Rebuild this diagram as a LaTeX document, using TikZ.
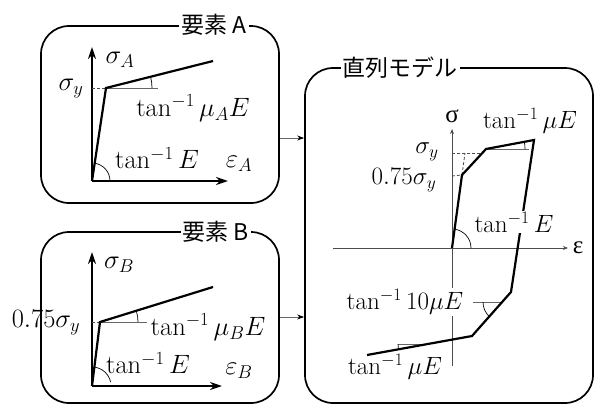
\RequirePackage{fix-cm}
\documentclass[tikz,border=0pt]{standalone}
\usepackage{fontspec}
\newfontfamily\jpfont{Noto Sans CJK JP}
\newfontfamily\grkfont{Liberation Serif}
\usetikzlibrary{arrows.meta}
\begin{document}
\begin{tikzpicture}[x=1pt,y=-1pt,
  box/.style={draw, line width=1.7pt, rounded corners=28pt, inner sep=0pt},
  ttl/.style={fill=white, inner sep=2pt, font=\jpfont\fontsize{23}{25}\selectfont},
  lbl/.style={font=\fontsize{26.5}{30}\selectfont, inner sep=1pt},
  lblm/.style={font=\fontsize{25}{29}\selectfont, inner sep=1pt},
  wlbl/.style={lblm, fill=white},
  curve/.style={line width=2.2pt, line join=miter},
  axis/.style={line width=2pt, -{Stealth[length=12pt,width=8pt]}},
  thinaxis/.style={line width=0.8pt, draw=black!70, -{Stealth[length=5pt,width=4pt]}},
  refline/.style={line width=0.9pt, draw=black!60},
  dsh/.style={line width=0.8pt, draw=black!70, dash pattern=on 3pt off 2pt},
  anglemark/.style={line width=0.7pt},
  conn/.style={line width=0.8pt, draw=black!60, -{Stealth[length=7pt,width=5pt,color=black]}},
]
\useasboundingbox (0,0) rectangle (595,405);

% boxes
\node[box, minimum width=238pt, minimum height=177pt] (boxA) at (160,114.5) {};
\node[box, minimum width=238pt, minimum height=171pt] (boxB) at (160,317.5) {};
\node[box, minimum width=288pt, minimum height=335pt] (boxM) at (449,235.5) {};
\node[ttl] (tA) at (214,25) {要素 A};
\node[ttl] (tB) at (216,232) {要素 B};
\node[ttl] (tM) at (400,68) {直列モデル};

% connectors
\coordinate (cA) at (0,138);
\coordinate (cB) at (0,317);
\draw[conn] (boxA.east |- cA) -- (boxM.west |- cA);
\draw[conn] (boxB.east |- cB) -- (boxM.west |- cB);

% ---------- panel A ----------
\coordinate (oA) at (92,181);
\coordinate (yA) at (92,47);
\coordinate (xA) at (228,181);
\coordinate (pA1) at (106,88);
\coordinate (pA2) at (213,61);
\coordinate (dA) at (92,88);
\coordinate (rA) at (158,88);
\draw[axis] (oA) -- (yA);
\draw[axis] (oA) -- (xA);
\draw[dsh] (dA) -- (pA1);
\draw[refline] (pA1) -- (rA);
\draw[curve] (oA) -- (pA1) -- (pA2);
\draw[anglemark] (pA1) ++(46,0) arc[start angle=0, end angle=-14.2, radius=46];
\draw[anglemark] (oA) ++(18,0) arc[start angle=0, end angle=-81.4, radius=18];
\node[lbl] (sA) at (120,60) {$\sigma_A$};
\node[lbl] (syA) at (71,89) {$\sigma_y$};
\node[lbl] (muA) at (193,108) {$\tan^{-1}\mu_A E$};
\node[lbl] (EA) at (157,158) {$\tan^{-1}E$};
\node[lbl] (eA) at (239,164) {$\varepsilon_A$};

% ---------- panel B ----------
\coordinate (oB) at (92,386);
\coordinate (yB) at (92,252);
\coordinate (xB) at (222,386);
\coordinate (pB1) at (100,322);
\coordinate (pB2) at (213,287);
\coordinate (dB) at (92,322);
\coordinate (rB) at (147,322);
\draw[axis] (oB) -- (yB);
\draw[axis] (oB) -- (xB);
\draw[dsh] (dB) -- (pB1);
\draw[refline] (pB1) -- (rB);
\draw[curve] (oB) -- (pB1) -- (pB2);
\draw[anglemark] (pB1) ++(38,0) arc[start angle=0, end angle=-17.2, radius=38];
\draw[anglemark] (oB) ++(-82.9:19) arc[start angle=-82.9, end angle=-12, radius=19];
\node[lbl] (sB) at (119,265) {$\sigma_B$};
\node[lbl] (syB) at (46,323) {$0.75\sigma_y$};
\node[lbl] (muB) at (208,327) {$\tan^{-1}\mu_B E$};
\node[lbl] (EB) at (148,363) {$\tan^{-1}E$};
\node[lbl] (eB) at (239,371) {$\varepsilon_B$};

% ---------- series model ----------
\coordinate (oM) at (452,248);
\coordinate (mTop) at (452,129);
\coordinate (mBot) at (452,366);
\coordinate (mL) at (333,248);
\coordinate (mR) at (568,248);
\draw[thinaxis] (mBot) -- (mTop);
\draw[thinaxis] (mL) -- (mR);
\coordinate (q1) at (462,175);
\coordinate (q2) at (486,149);
\coordinate (q3) at (534,140);
\coordinate (q4) at (511,292);
\coordinate (q5) at (472,336);
\coordinate (q6) at (367,355);
% dashed guides
\coordinate (g1) at (452,153);
\coordinate (g2) at (483,153);
\coordinate (g3) at (452,176);
\coordinate (g4) at (465,153);
\draw[dsh] (g1) -- (g2);
\draw[dsh] (g3) -- (q1);
\draw[dsh] (q1) -- (g4);
% reference lines
\coordinate (h1) at (529,149);
\draw[refline] (q2) -- (h1);
\draw[anglemark] (q2) ++(39,0) arc[start angle=0, end angle=-10.6, radius=39];
\coordinate (h2a) at (473,302);
\coordinate (h2b) at (503,302);
\draw[refline] (h2a) -- (h2b);
\coordinate (h3a) at (398,344);
\coordinate (h3b) at (428,344);
\draw[refline] (h3a) -- (h3b);
\node[wlbl] (t10) at (405,302) {$\tan^{-1}10\mu E$};
\draw[curve] (oM) -- (q1) -- (q2) -- (q3) -- (q4) -- (q5) -- (q6);
\node[wlbl] (tE) at (514,222) {$\tan^{-1}E$};
\draw[anglemark] (h2b) ++(-20,0) arc[start angle=180, end angle=132.3, radius=20];
\draw[anglemark] (h3b) ++(-30,0) arc[start angle=180, end angle=169.8, radius=30];
\draw[anglemark] (oM) ++(19,0) arc[start angle=0, end angle=-82.2, radius=19];
\node[lblm] (sig) at (452,116) {\grkfont σ};
\node[lblm] (eps) at (578,248) {\grkfont ε};
\node[lblm] (tmu) at (530,121) {$\tan^{-1}\mu E$};
\node[lblm] (sy) at (427,152) {$\sigma_y$};
\node[lblm] (s75) at (404,180) {$0.75\sigma_y$};
\node[lblm] (tmu2) at (395,367) {$\tan^{-1}\mu E$};
\end{tikzpicture}
\end{document}
